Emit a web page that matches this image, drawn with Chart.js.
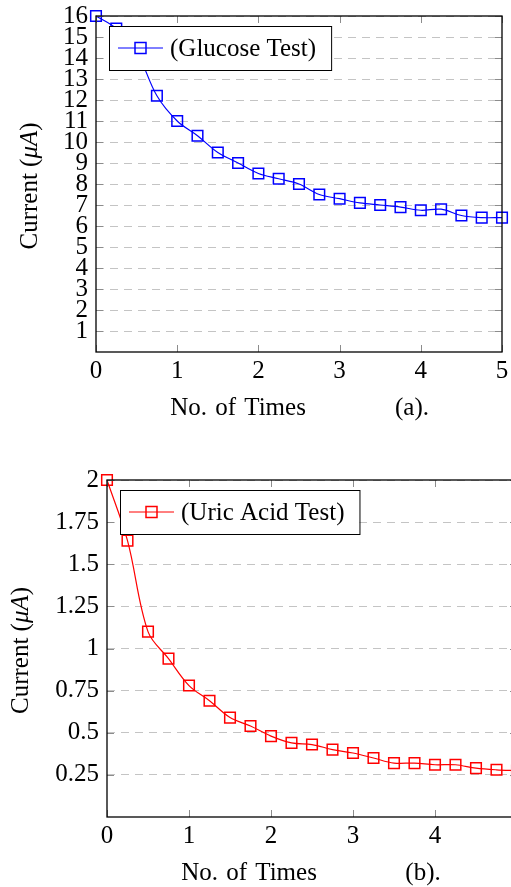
<!DOCTYPE html>
<html>
<head>
<meta charset="utf-8">
<script src="https://cdn.jsdelivr.net/npm/chart.js@4.4.0/dist/chart.umd.min.js"></script>
<style>
html, body { margin: 0; padding: 0; overflow: hidden; background: #fff; }
#a { position: absolute; left: 0; top: 0; }
#b { position: absolute; left: 0; top: 440px; }
</style>
</head>
<body>
<canvas id="a" width="511" height="440"></canvas>
<canvas id="b" width="530" height="447"></canvas>
<script>
var times = [0, 0.25, 0.5, 0.75, 1, 1.25, 1.5, 1.75, 2, 2.25, 2.5, 2.75, 3, 3.25, 3.5, 3.75, 4, 4.25, 4.5, 4.75, 5];
var glucose = [16, 15.4, 14.3, 12.2, 11, 10.3, 9.5, 9.0, 8.5, 8.25, 8.0, 7.5, 7.3, 7.1, 7.0, 6.9, 6.75, 6.8, 6.5, 6.4, 6.4];
var uric = [2.0, 1.64, 1.10, 0.94, 0.78, 0.69, 0.59, 0.54, 0.48, 0.44, 0.43, 0.40, 0.38, 0.35, 0.32, 0.32, 0.31, 0.31, 0.29, 0.28, 0.275];
var xTicks = [0, 1, 2, 3, 4, 5];
var glucoseTicks = [1, 2, 3, 4, 5, 6, 7, 8, 9, 10, 11, 12, 13, 14, 15, 16];
var uricTicks = [0.25, 0.5, 0.75, 1, 1.25, 1.5, 1.75, 2];

var FONT = '"Liberation Serif", "Times New Roman", serif';
var SIZE = 25;
Chart.defaults.color = '#000';
Chart.defaults.font.family = FONT;
Chart.defaults.font.size = SIZE;

// frame, inward ticks, legend box and axis titles (pgfplots look)
var decor = {
    id: 'decor',
    afterDraw: function (chart, args, opts) {
        var ctx = chart.ctx, a = chart.chartArea;
        var xs = chart.scales.x, ys = chart.scales.y;
        var ds = chart.data.datasets[0];
        var f = SIZE + 'px ' + FONT;
        ctx.save();

        ctx.strokeStyle = '#8c8c8c';
        ctx.lineWidth = 1;
        ctx.beginPath();
        xs.ticks.forEach(function (t) {
            var px = Math.round(xs.getPixelForValue(t.value)) + 0.5;
            ctx.moveTo(px, a.bottom); ctx.lineTo(px, a.bottom - 7);
            ctx.moveTo(px, a.top); ctx.lineTo(px, a.top + 7);
        });
        ys.ticks.forEach(function (t) {
            var py = Math.round(ys.getPixelForValue(t.value)) + 0.5;
            ctx.moveTo(a.left, py); ctx.lineTo(a.left + 7, py);
            ctx.moveTo(a.right, py); ctx.lineTo(a.right - 7, py);
        });
        ctx.stroke();

        ctx.strokeStyle = '#000';
        ctx.lineWidth = 1.3;
        ctx.strokeRect(a.left, a.top, a.right - a.left, a.bottom - a.top);

        // legend
        var lx = a.left + 13, ly = a.top + 10, h = 44;
        ctx.font = f;
        var tw = ctx.measureText(ds.label).width;
        var w = 9 + 45 + 7 + tw + 15;
        ctx.fillStyle = '#fff';
        ctx.fillRect(lx, ly, w, h);
        ctx.strokeStyle = '#000';
        ctx.lineWidth = 1;
        ctx.strokeRect(lx + 0.5, ly + 0.5, w, h);
        var cy = ly + h / 2;
        ctx.strokeStyle = ds.borderColor;
        ctx.beginPath();
        ctx.moveTo(lx + 9, cy); ctx.lineTo(lx + 54, cy);
        ctx.stroke();
        ctx.lineWidth = 1.5;
        ctx.strokeRect(lx + 31.5 - 5.5, cy - 5.5, 11, 11);
        ctx.fillStyle = '#000';
        ctx.textAlign = 'left';
        ctx.textBaseline = 'middle';
        ctx.fillText(ds.label, lx + 61, cy + 1);

        // x title and tag
        ctx.textAlign = 'center';
        ctx.wordSpacing = '2px';
        ctx.fillText('No. of Times', a.left + 142, a.bottom + 56);
        ctx.wordSpacing = '0px';
        ctx.fillText(opts.tag, a.left + 316, a.bottom + 56);

        // y title
        ctx.translate(opts.yTitleX, (a.top + a.bottom) / 2 + 2);
        ctx.rotate(-Math.PI / 2);
        var p1 = 'Current (', p2 = 'μA', p3 = ')';
        ctx.font = f;
        var w1 = ctx.measureText(p1).width, w3 = ctx.measureText(p3).width;
        ctx.font = 'italic ' + f;
        var w2 = ctx.measureText(p2).width;
        var x0 = -(w1 + w2 + w3) / 2;
        ctx.textAlign = 'left';
        ctx.font = f;
        ctx.fillText(p1, x0, 0);
        ctx.font = 'italic ' + f;
        ctx.fillText(p2, x0 + w1, 0);
        ctx.font = f;
        ctx.fillText(p3, x0 + w1 + w2, 0);
        ctx.restore();
    }
};

function makeChart(id, values, yTicks, yMax, opt) {
    var points = times.map(function (t, i) { return { x: t, y: values[i] }; });
    return new Chart(document.getElementById(id), {
        type: 'line',
        data: {
            datasets: [{
                label: opt.label,
                data: points,
                borderColor: opt.color,
                borderWidth: 1.2,
                tension: 0.35,
                pointStyle: 'rect',
                pointRadius: 7.5,
                pointBorderWidth: 1.5,
                pointBorderColor: opt.color,
                pointBackgroundColor: 'rgba(0,0,0,0)',
                clip: false
            }]
        },
        options: {
            responsive: false,
            animation: false,
            events: [],
            layout: { padding: { left: 0, top: opt.top, right: opt.right, bottom: 0 } },
            plugins: {
                legend: { display: false },
                tooltip: { enabled: false },
                decor: { tag: opt.tag, yTitleX: opt.yTitleX }
            },
            scales: {
                x: {
                    type: 'linear', min: 0, max: 5,
                    afterBuildTicks: function (s) { s.ticks = xTicks.map(function (v) { return { value: v }; }); },
                    grid: { display: false, drawTicks: false },
                    border: { display: false },
                    ticks: { padding: 6.5, maxRotation: 0, autoSkip: false, font: { lineHeight: 1 } },
                    afterFit: function (s) { s.height = opt.xHeight; s.paddingLeft = 0; s.paddingRight = 0; }
                },
                y: {
                    type: 'linear', min: 0, max: yMax,
                    afterBuildTicks: function (s) { s.ticks = yTicks.map(function (v) { return { value: v }; }); },
                    grid: { color: '#c4c4c4', drawTicks: false, lineWidth: 1 },
                    border: { display: false, dash: [8, 6] },
                    ticks: {
                        padding: 8, autoSkip: false, font: { lineHeight: 1 },
                        callback: function (v) { return String(v); }
                    },
                    afterFit: function (s) { s.width = opt.yWidth; s.paddingTop = 0; s.paddingBottom = 0; }
                }
            }
        },
        plugins: [decor]
    });
}

makeChart('a', glucose, glucoseTicks, 16, {
    label: '(Glucose Test)', color: '#0000ff', tag: '(a).',
    top: 16, right: 5, yWidth: 96, xHeight: 88, yTitleX: 30
});
makeChart('b', uric, uricTicks, 2, {
    label: '(Uric Acid Test)', color: '#ff0000', tag: '(b).',
    top: 40, right: 13, yWidth: 107, xHeight: 70, yTitleX: 21
});
</script>
</body>
</html>
